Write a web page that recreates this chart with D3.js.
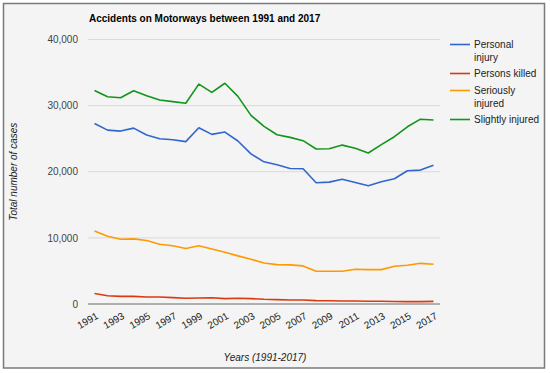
<!DOCTYPE html>
<html>
<head>
<meta charset="utf-8">
<script src="https://cdn.jsdelivr.net/npm/d3@7"></script>
<style>
  body { margin: 0; background: #fff; }
  svg { display: block; font-family: Arial, "Liberation Sans", sans-serif; }
</style>
</head>
<body>
<svg id="chart"></svg>
<script>
const years = d3.range(1991, 2018);
const personalInjury = [27300, 26300, 26150, 26600, 25550, 25000, 24850, 24550, 26650, 25650, 26000, 24650, 22700, 21500, 21050, 20500, 20450, 18330, 18430, 18880, 18380, 17880, 18480, 18940, 20150, 20250, 21000];
const personsKilled = [1600, 1250, 1150, 1150, 1050, 1060, 960, 860, 910, 950, 810, 860, 810, 710, 660, 610, 610, 510, 500, 460, 460, 410, 410, 370, 360, 360, 400];
const seriouslyInjured = [11050, 10250, 9800, 9850, 9600, 9040, 8800, 8400, 8800, 8330, 7830, 7280, 6770, 6210, 5960, 5910, 5760, 4950, 4950, 4950, 5250, 5200, 5200, 5700, 5860, 6150, 6000];
const slightlyInjured = [32300, 31350, 31200, 32250, 31500, 30850, 30600, 30350, 33250, 32000, 33380, 31400, 28530, 26870, 25600, 25200, 24700, 23440, 23480, 24030, 23540, 22830, 24100, 25300, 26800, 27950, 27830];
const seriesNames = ["Personal injury", "Persons killed", "Seriously injured", "Slightly injured"];
const seriesColors = ["#3366cc", "#dc3912", "#ff9900", "#109618"];
const legendLines = [["Personal", "injury"], ["Persons killed"], ["Seriously", "injured"], ["Slightly injured"]];
const yTicks = [0, 10000, 20000, 30000, 40000];
const xTicks = d3.range(1991, 2018, 2);

const width = 550, height = 373;
const plot = {left: 88, right: 440, top: 39.5, bottom: 304};

const svg = d3.select("#chart").attr("width", width).attr("height", height);

// panel + frame
svg.append("rect")
  .attr("x", 3.5).attr("y", 3.5).attr("width", 541).attr("height", 364.5)
  .attr("fill", "#f4f4f4").attr("stroke", "#7a7a7a").attr("stroke-width", 1.5);

const x = d3.scaleLinear().domain([1990.5, 2017.5]).range([plot.left, plot.right]);
const y = d3.scaleLinear().domain([0, 40000]).range([plot.bottom, plot.top]);

// title
svg.append("text")
  .attr("x", 89).attr("y", 22)
  .attr("font-size", 10).attr("font-weight", "bold").attr("fill", "#000")
  .text("Accidents on Motorways between 1991 and 2017");

// gridlines
svg.append("g").selectAll("line")
  .data(yTicks.filter(d => d > 0))
  .join("line")
  .attr("x1", plot.left).attr("x2", plot.right)
  .attr("y1", d => y(d)).attr("y2", d => y(d))
  .attr("stroke", "#d9d9d9").attr("stroke-width", 1);

// y axis labels
const yAxis = svg.append("g")
  .attr("transform", `translate(${plot.left},0)`)
  .call(d3.axisLeft(y).tickValues(yTicks).tickFormat(d3.format(",")).tickSize(0).tickPadding(10));
yAxis.select(".domain").remove();
yAxis.selectAll("text").attr("font-size", 10).attr("fill", "#444").attr("font-family", null);

// lines
const series = [personalInjury, personsKilled, seriouslyInjured, slightlyInjured];
const line = d3.line().x((d, i) => x(years[i])).y(d => y(d));
svg.append("g").selectAll("path")
  .data(series)
  .join("path")
  .attr("d", line)
  .attr("fill", "none")
  .attr("stroke", (d, i) => seriesColors[i])
  .attr("stroke-width", 1.6)
  .attr("stroke-linejoin", "round");

// baseline
svg.append("line")
  .attr("x1", plot.left).attr("x2", plot.right)
  .attr("y1", y(0)).attr("y2", y(0))
  .attr("stroke", "#999").attr("stroke-width", 1.5);

// x axis labels
const xAxis = svg.append("g")
  .attr("transform", `translate(0,${plot.bottom})`)
  .call(d3.axisBottom(x).tickValues(xTicks).tickFormat(d3.format("d")).tickSize(0));
xAxis.select(".domain").remove();
xAxis.selectAll("text")
  .attr("font-size", 10).attr("fill", "#222").attr("font-family", null)
  .attr("text-anchor", "end")
  .attr("dy", null)
  .attr("y", 0)
  .attr("transform", "translate(4,14) rotate(-30)");

// axis titles
svg.append("text")
  .attr("transform", `translate(17,${(plot.top + plot.bottom) / 2}) rotate(-90)`)
  .attr("text-anchor", "middle").attr("font-size", 10).attr("font-style", "italic").attr("fill", "#222")
  .text("Total number of cases");
svg.append("text")
  .attr("x", (plot.left + plot.right) / 2 + 1).attr("y", 361)
  .attr("text-anchor", "middle").attr("font-size", 10).attr("font-style", "italic").attr("fill", "#222")
  .text("Years (1991-2017)");

// legend
const legendY = [44.5, 73.5, 90.5, 119.5];
const legend = svg.append("g").selectAll("g")
  .data(seriesNames)
  .join("g")
  .attr("transform", (d, i) => `translate(450,${legendY[i]})`);
legend.append("line")
  .attr("x1", 0).attr("x2", 20).attr("y1", 0).attr("y2", 0)
  .attr("stroke", (d, i) => seriesColors[i]).attr("stroke-width", 1.6);
legend.append("text")
  .attr("x", 24).attr("y", 0)
  .attr("font-size", 10).attr("fill", "#222")
  .selectAll("tspan")
  .data((d, i) => legendLines[i])
  .join("tspan")
  .attr("x", 24)
  .attr("dy", (d, j) => j === 0 ? "0.35em" : "13")
  .text(d => d);
</script>
</body>
</html>
